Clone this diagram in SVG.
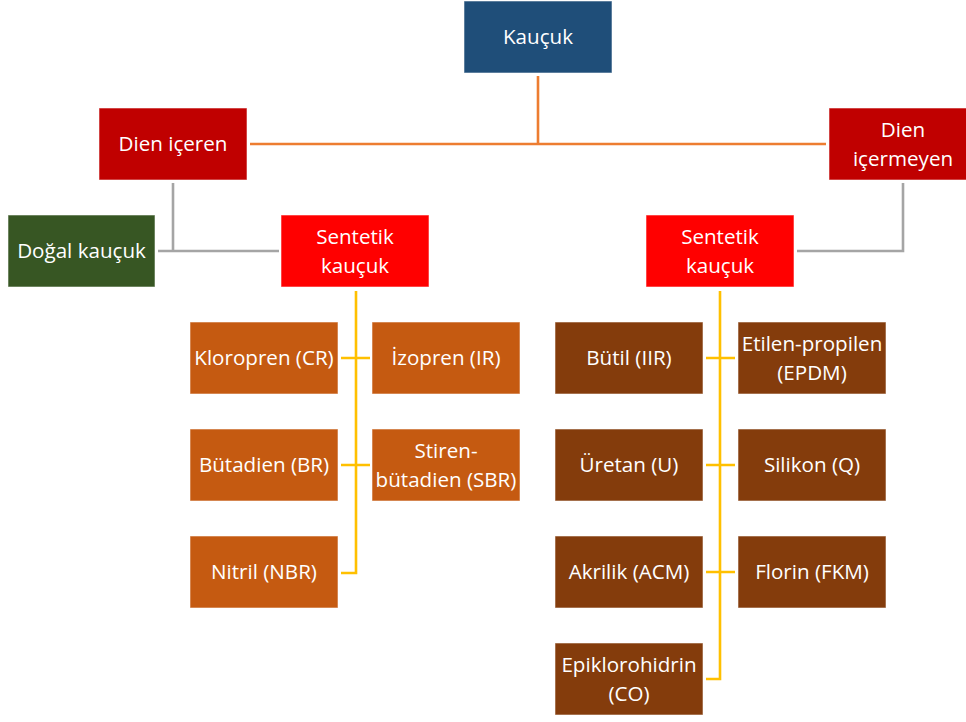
<svg xmlns="http://www.w3.org/2000/svg" width="966" height="722" viewBox="0 0 966 722">
<style>
  .box { stroke: #ffffff; stroke-opacity: 0.55; stroke-width: 1; }
  .t { font-family: "Open Sans", "Liberation Sans", sans-serif; font-size: 20.6px; fill: #ffffff; text-anchor: middle; }
  .c { fill: none; stroke-width: 2.6; stroke-linecap: butt; stroke-linejoin: miter; }
  .or { stroke: #ED7D31; }
  .gr { stroke: #A5A5A5; }
  .ye { stroke: #FFC000; }
</style>
<rect width="966" height="722" fill="#ffffff"/>
<g id="connectors">
  <path class="c or" d="M538 76 V144 M250 144 H826"/>
  <path class="c gr" d="M173 183 V251 M158 251 H279"/>
  <path class="c gr" d="M903 183 V251 H797"/>
  <path class="c ye" d="M356 291 V573 H341 M341 358 H370 M341 465 H370"/>
  <path class="c ye" d="M720 291 V679 H706 M706 358 H735 M706 465 H735 M706 572 H735"/>
</g>
<g id="n-kaucuk"><rect class="box" x="464" y="1" width="148" height="72" fill="#1F4E79"/><text class="t" x="538" y="44">Kauçuk</text></g>
<g id="n-dien-iceren"><rect class="box" x="99" y="108" width="148" height="72" fill="#C00000"/><text class="t" x="173" y="151">Dien içeren</text></g>
<g id="n-dien-icermeyen"><rect class="box" x="829" y="108" width="148" height="72" fill="#C00000"/><text class="t" x="903" y="137">Dien</text><text class="t" x="903" y="166">içermeyen</text></g>
<g id="n-dogal"><rect class="box" x="8" y="215" width="147" height="72" fill="#375623"/><text class="t" x="81.5" y="258">Doğal kauçuk</text></g>
<g id="n-sentetik-l"><rect class="box" x="281" y="215" width="148" height="72" fill="#FF0000"/><text class="t" x="355" y="244">Sentetik</text><text class="t" x="355" y="273">kauçuk</text></g>
<g id="n-sentetik-r"><rect class="box" x="646" y="215" width="148" height="72" fill="#FF0000"/><text class="t" x="720" y="244">Sentetik</text><text class="t" x="720" y="273">kauçuk</text></g>

<g id="n-cr"><rect class="box" x="190" y="322" width="148" height="72" fill="#C55A11"/><text class="t" x="264" y="365">Kloropren (CR)</text></g>
<g id="n-ir"><rect class="box" x="372" y="322" width="148" height="72" fill="#C55A11"/><text class="t" x="446" y="365">İzopren (IR)</text></g>
<g id="n-br"><rect class="box" x="190" y="429" width="148" height="72" fill="#C55A11"/><text class="t" x="264" y="472">Bütadien (BR)</text></g>
<g id="n-sbr"><rect class="box" x="372" y="429" width="148" height="72" fill="#C55A11"/><text class="t" x="446" y="458">Stiren-</text><text class="t" x="446" y="487">bütadien (SBR)</text></g>
<g id="n-nbr"><rect class="box" x="190" y="536" width="148" height="72" fill="#C55A11"/><text class="t" x="264" y="579">Nitril (NBR)</text></g>

<g id="n-iir"><rect class="box" x="555" y="322" width="148" height="72" fill="#843C0C"/><text class="t" x="629" y="365">Bütil (IIR)</text></g>
<g id="n-epdm"><rect class="box" x="738" y="322" width="148" height="72" fill="#843C0C"/><text class="t" x="812" y="351">Etilen-propilen</text><text class="t" x="812" y="380">(EPDM)</text></g>
<g id="n-u"><rect class="box" x="555" y="429" width="148" height="72" fill="#843C0C"/><text class="t" x="629" y="472">Üretan (U)</text></g>
<g id="n-q"><rect class="box" x="738" y="429" width="148" height="72" fill="#843C0C"/><text class="t" x="812" y="472">Silikon (Q)</text></g>
<g id="n-acm"><rect class="box" x="555" y="536" width="148" height="72" fill="#843C0C"/><text class="t" x="629" y="579">Akrilik (ACM)</text></g>
<g id="n-fkm"><rect class="box" x="738" y="536" width="148" height="72" fill="#843C0C"/><text class="t" x="812" y="579">Florin (FKM)</text></g>
<g id="n-co"><rect class="box" x="555" y="643" width="148" height="72" fill="#843C0C"/><text class="t" x="629" y="672">Epiklorohidrin</text><text class="t" x="629" y="701">(CO)</text></g>
</svg>
